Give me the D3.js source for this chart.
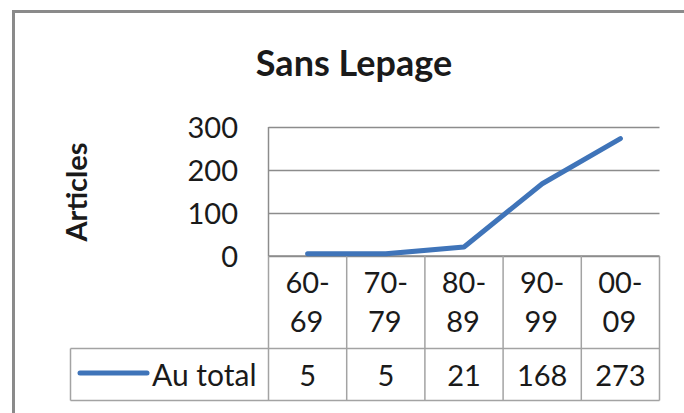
<!DOCTYPE html>
<html>
<head>
<meta charset="utf-8">
<script src="https://cdn.jsdelivr.net/npm/d3@7"></script>
<style>
  html, body { margin: 0; padding: 0; background: #fff; }
  svg { display: block; }
  text { font-family: Lato, "Open Sans", sans-serif; fill: #1a1a1a; }
</style>
</head>
<body>
<svg id="chart" width="684" height="413"></svg>
<script>
const title = "Sans Lepage";
const yTitle = "Articles";
const categories = ["60-69", "70-79", "80-89", "90-99", "00-09"];
const seriesName = "Au total";
const values = [5, 5, 21, 168, 273];
const yTicks = [0, 100, 200, 300];

const svg = d3.select("#chart");
const W = 684, H = 413;
const plotLeft = 268.5, plotRight = 659.5, plotTop = 127, plotBottom = 256;
const headerBottom = 348.5, rowBottom = 400.5, legendLeft = 70.5;
const gridColor = "#8c8c8c", tableColor = "#a3a3a3", lineColor = "#3f74b9";

// outer chart border
svg.append("path")
  .attr("d", `M13.5,${H} L13.5,11.5 L${W},11.5`)
  .attr("fill", "none").attr("stroke", "#8a8a8a").attr("stroke-width", 3);

// title
svg.append("text").attr("x", 354).attr("y", 76)
  .attr("text-anchor", "middle").attr("font-weight", "bold")
  .attr("font-size", 36).text(title);

const x = d3.scaleBand().domain(categories).range([plotLeft, plotRight]);
const y = d3.scaleLinear().domain([0, 300]).range([plotBottom, plotTop]);

// gridlines
const grid = svg.append("g").attr("transform", `translate(${plotLeft},0)`)
  .call(d3.axisLeft(y).tickValues(yTicks).tickSize(-(plotRight - plotLeft)).tickFormat(""));
grid.select(".domain").remove();
grid.selectAll(".tick line").attr("stroke", gridColor).attr("stroke-width", 1.5);

// left axis line of plot area
svg.append("line").attr("x1", plotLeft).attr("x2", plotLeft)
  .attr("y1", plotTop).attr("y2", plotBottom)
  .attr("stroke", gridColor).attr("stroke-width", 1.5);

// y tick labels
const yAxis = svg.append("g").attr("transform", `translate(238,0)`)
  .call(d3.axisLeft(y).tickValues(yTicks).tickSize(0).tickPadding(0));
yAxis.select(".domain").remove();
yAxis.selectAll("text").attr("font-size", 29).attr("fill", "#1a1a1a")
  .attr("font-family", "Lato, sans-serif").attr("dy", "0.36em");

// y title
svg.append("text").attr("transform", "translate(87,192) rotate(-90)")
  .attr("text-anchor", "middle").attr("font-weight", "bold")
  .attr("font-size", 29).text(yTitle);

// data table lines
const tbl = svg.append("g").attr("stroke", tableColor).attr("stroke-width", 1.5).attr("fill", "none");
tbl.append("line").attr("x1", plotLeft).attr("x2", plotRight).attr("y1", plotBottom).attr("y2", plotBottom).attr("stroke", gridColor);
tbl.append("line").attr("x1", legendLeft).attr("x2", plotRight).attr("y1", headerBottom).attr("y2", headerBottom);
tbl.append("line").attr("x1", legendLeft).attr("x2", plotRight).attr("y1", rowBottom).attr("y2", rowBottom);
const bounds = categories.map(c => x(c)).concat([plotRight]);
bounds.forEach(b => {
  tbl.append("line").attr("x1", b).attr("x2", b).attr("y1", plotBottom).attr("y2", rowBottom);
});
tbl.append("line").attr("x1", legendLeft).attr("x2", legendLeft).attr("y1", headerBottom).attr("y2", rowBottom);

// header category labels (two lines)
categories.forEach(c => {
  const parts = c.split("-");
  const t = svg.append("text").attr("text-anchor", "middle").attr("font-size", 29);
  t.append("tspan").attr("x", x(c) + x.bandwidth() / 2).attr("y", 293).text(parts[0] + "-");
  t.append("tspan").attr("x", x(c) + x.bandwidth() / 2 - 1).attr("y", 332).text(parts[1]);
});

// values row
svg.selectAll("text.val").data(values).enter().append("text")
  .attr("class", "val").attr("text-anchor", "middle").attr("font-size", 29)
  .attr("x", (d, i) => x(categories[i]) + x.bandwidth() / 2)
  .attr("y", 386).text(d => d);

// legend in table
svg.append("line").attr("x1", 80).attr("x2", 147).attr("y1", 373).attr("y2", 373)
  .attr("stroke", lineColor).attr("stroke-width", 5).attr("stroke-linecap", "round");
svg.append("text").attr("x", 152).attr("y", 386).attr("font-size", 30).text(seriesName);

// data line
const line = d3.line()
  .x((d, i) => x(categories[i]) + x.bandwidth() / 2)
  .y(d => y(d));
svg.append("path").datum(values).attr("d", line)
  .attr("fill", "none").attr("stroke", lineColor).attr("stroke-width", 5)
  .attr("stroke-linecap", "round").attr("stroke-linejoin", "round");
</script>
</body>
</html>
